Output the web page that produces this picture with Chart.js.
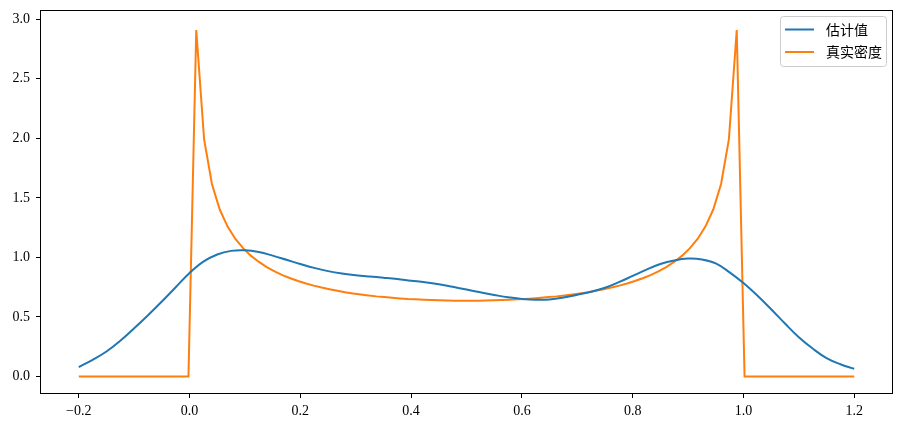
<!DOCTYPE html>
<html>
<head>
<meta charset="utf-8">
<script src="https://cdn.jsdelivr.net/npm/chart.js@4.4.0/dist/chart.umd.min.js"></script>
<style>
  html, body { margin:0; padding:0; background:#fff; }
  #c { display:block; }
</style>
</head>
<body>
<canvas id="c" width="902" height="430"></canvas>
<script>
// estimated curve
const estX = [-0.2,-0.175,-0.15,-0.125,-0.1,-0.075,-0.05,-0.025,0.0,0.025,0.05,0.075,0.1,0.125,0.15,0.175,0.2,0.225,0.25,0.275,
  0.3,0.325,0.35,0.375,0.4,0.425,0.45,0.475,0.5,0.525,0.55,0.575,0.6,0.625,0.65,0.675,0.7,0.725,0.75,0.775,
  0.8,0.825,0.85,0.875,0.9,0.925,0.95,0.975,1.0,1.025,1.05,1.075,1.1,1.125,1.15,1.175,1.2];
const estY = [0.08,0.14,0.21,0.30,0.405,0.515,0.63,0.75,0.87,0.965,1.025,1.055,1.06,1.045,1.015,0.98,0.945,0.912,0.885,0.865,
  0.851,0.84,0.83,0.819,0.805,0.792,0.775,0.753,0.73,0.707,0.685,0.665,0.652,0.645,0.647,0.663,0.687,0.712,0.745,0.792,
  0.845,0.898,0.945,0.975,0.99,0.983,0.95,0.875,0.785,0.68,0.565,0.445,0.33,0.235,0.155,0.103,0.065];

// true density samples
const trueX = [-0.2,-0.002,
  0.0121,0.0263,0.0404,0.0545,0.0687,0.0828,0.0970,0.1111,0.1253,0.1394,0.1535,0.1677,0.1818,0.1960,0.2101,0.2242,0.2384,0.2525,
  0.2667,0.2808,0.2949,0.3091,0.3232,0.3374,0.3515,0.3657,0.3798,0.3939,0.4081,0.4222,0.4364,0.4505,0.4646,0.4788,0.4929,
  0.5071,0.5212,0.5354,0.5495,0.5636,0.5778,0.5919,0.6061,0.6202,0.6343,0.6485,0.6626,0.6768,0.6909,0.7051,0.7192,0.7333,
  0.7475,0.7616,0.7758,0.7899,0.8040,0.8182,0.8323,0.8465,0.8606,0.8747,0.8889,0.9030,0.9172,0.9313,0.9455,0.9596,0.9737,0.9879,
  1.002,1.2];
const trueY = [0,0,
  2.909,1.990,1.617,1.402,1.259,1.155,1.076,1.013,0.962,0.919,0.883,0.852,0.825,0.802,0.781,0.763,0.747,0.733,
  0.720,0.708,0.698,0.689,0.681,0.673,0.667,0.661,0.656,0.651,0.648,0.645,0.642,0.640,0.638,0.637,0.637,
  0.637,0.637,0.638,0.640,0.642,0.645,0.648,0.651,0.656,0.661,0.667,0.673,0.681,0.689,0.698,0.708,0.720,
  0.733,0.747,0.763,0.781,0.802,0.825,0.852,0.883,0.919,0.962,1.013,1.076,1.155,1.259,1.402,1.617,1.990,2.909,
  0,0];

const xTicks = [-0.2,0.0,0.2,0.4,0.6,0.8,1.0,1.2];
const yTicks = [0.0,0.5,1.0,1.5,2.0,2.5,3.0];
const labels = ['估计值','真实密度'];

const FONT = "'Liberation Serif', 'DejaVu Serif', serif";
const fmt = v => (v < 0 ? '\u2212' : '') + Math.abs(v).toFixed(1);

// box round the plot area
const frame = {
  id:'frame',
  afterDraw(chart){
    const a = chart.chartArea, ctx = chart.ctx;
    ctx.save();
    ctx.strokeStyle = '#000'; ctx.lineWidth = 1;
    ctx.strokeRect(Math.round(a.left)+0.5, Math.round(a.top)+0.5, Math.round(a.right-a.left)-1, Math.round(a.bottom-a.top)-1);
    ctx.restore();
  }
};

// matplotlib-like legend, upper right
const legendBox = {
  id:'legendBox',
  afterDraw(chart){
    const a = chart.chartArea, ctx = chart.ctx;
    const w = 106, h = 50, x = a.right - 7 - w, y = a.top + 6;
    ctx.save();
    ctx.fillStyle = 'rgba(255,255,255,0.8)';
    ctx.strokeStyle = '#cccccc'; ctx.lineWidth = 1;
    ctx.beginPath(); ctx.roundRect(x+0.5, y+0.5, w, h, 3); ctx.fill(); ctx.stroke();
    ctx.font = "14px 'Noto Sans CJK SC', sans-serif";
    ctx.textBaseline = 'middle';
    chart.data.datasets.forEach((ds, i) => {
      const ly = y + 13.5 + i * 22.5;
      ctx.strokeStyle = ds.borderColor; ctx.lineWidth = 2;
      ctx.beginPath(); ctx.moveTo(x + 5, ly); ctx.lineTo(x + 34, ly); ctx.stroke();
      ctx.fillStyle = '#000';
      ctx.fillText(ds.label, x + 46, ly);
    });
    ctx.restore();
  }
};

new Chart(document.getElementById('c'), {
  type:'line',
  data:{ datasets:[
    { label:labels[0], data: estX.map((x,i)=>({x, y:estY[i]})), borderColor:'#1f77b4', borderWidth:2, pointRadius:0, tension:0.4, fill:false },
    { label:labels[1], data: trueX.map((x,i)=>({x, y:trueY[i]})), borderColor:'#ff7f0e', borderWidth:2, pointRadius:0, tension:0, fill:false }
  ]},
  options:{
    responsive:false, animation:false, devicePixelRatio:1,
    layout:{ padding:{ top:10, right:9, left:0, bottom:0 } },
    plugins:{ legend:{ display:false }, tooltip:{ enabled:false } },
    scales:{
      x:{ type:'linear', min:-0.27, max:1.27,
        afterBuildTicks: s => { s.ticks = xTicks.map(v=>({value:v})); },
        afterFit: s => { s.height = 36; s.paddingLeft = 0; s.paddingRight = 0; },
        grid:{ drawOnChartArea:false, drawTicks:true, tickLength:4, tickColor:'#000', tickWidth:1 },
        border:{ display:false },
        ticks:{ color:'#000', font:{ family:FONT, size:14 }, padding:5, maxRotation:0, callback: v => fmt(v) } },
      y:{ min:-0.1465, max:3.077,
        afterBuildTicks: s => { s.ticks = yTicks.map(v=>({value:v})); },
        afterFit: s => { s.width = 40; s.paddingTop = 0; s.paddingBottom = 0; },
        grid:{ drawOnChartArea:false, drawTicks:true, tickLength:4, tickColor:'#000', tickWidth:1 },
        border:{ display:false },
        ticks:{ color:'#000', font:{ family:FONT, size:14 }, padding:6, callback: v => fmt(v) } }
    }
  },
  plugins:[frame, legendBox]
});
</script>
</body>
</html>
